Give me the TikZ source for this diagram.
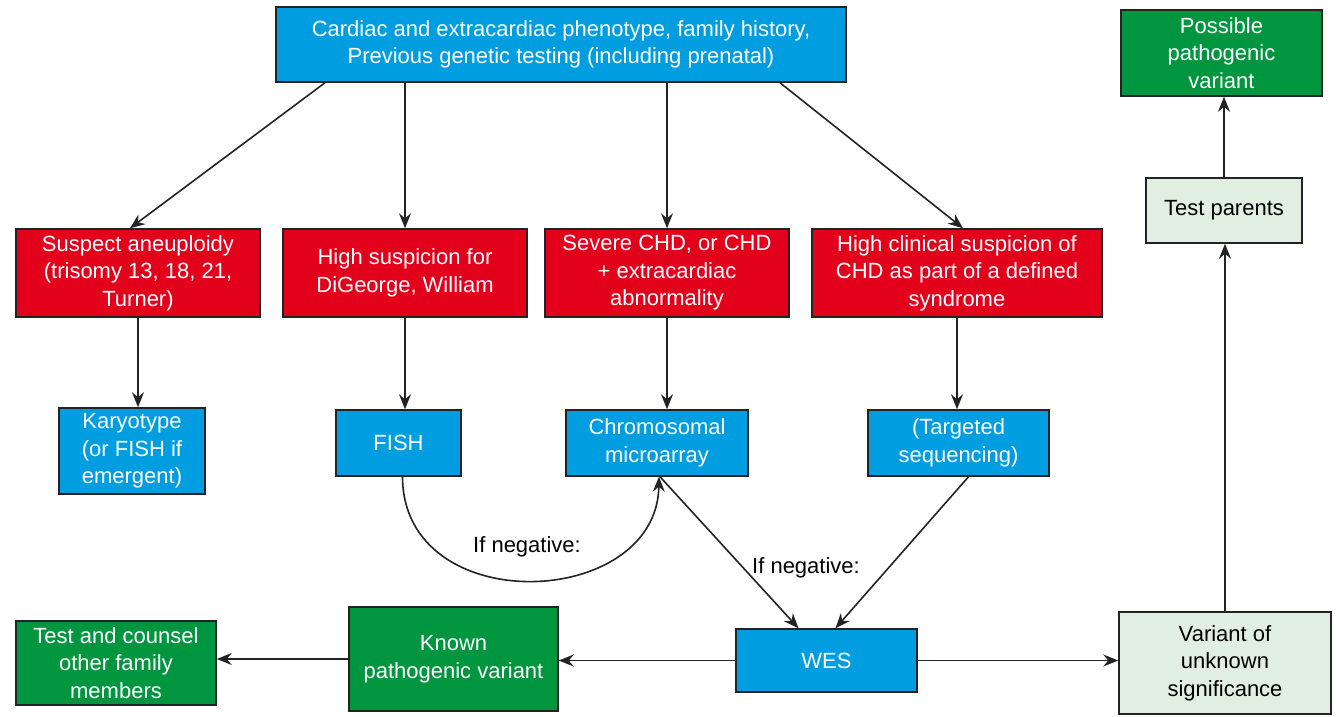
\documentclass[tikz,border=0pt]{standalone}
\usepackage{fontspec}
\setmainfont{Liberation Sans}
\usepackage{xcolor}
\usetikzlibrary{arrows.meta, positioning}

\definecolor{testblue}{RGB}{0,157,224}
\definecolor{suspred}{RGB}{226,0,26}
\definecolor{resgreen}{RGB}{0,150,64}
\definecolor{palegreen}{RGB}{225,238,226}
\definecolor{edgegray}{RGB}{35,35,35}

\begin{document}
\begin{tikzpicture}[
  x=1pt, y=-1pt,
  blk/.style = {draw=edgegray, line width=1.5pt, align=center, inner sep=0pt,
                font=\fontsize{22}{27.5}\selectfont},
  bluebox/.style = {blk, fill=testblue, text=white},
  redbox/.style = {blk, fill=suspred, text=white},
  greenbox/.style = {blk, fill=resgreen, text=white},
  palebox/.style = {blk, fill=palegreen, text=black},
  lbl/.style = {font=\fontsize{22}{27.5}\selectfont},
  arr/.style = {-{Stealth[length=15pt, width=12pt, inset=5pt]}, line width=1.6pt, draw=edgegray}
]
\useasboundingbox (0,0) rectangle (1336,716);

% phenotype and history
\node[bluebox, minimum width=570pt, minimum height=75pt] (top) at (561,44.5)
  {Cardiac and extracardiac phenotype, family history,\\ Previous genetic testing (including prenatal)};

% suspicions
\node[redbox, minimum width=244pt, minimum height=88pt] (aneu) at (138,273)
  {Suspect aneuploidy\\ (trisomy 13, 18, 21,\\ Turner)};
\node[redbox, minimum width=244pt, minimum height=88pt] (digeorge) at (405,273)
  {High suspicion for\\ DiGeorge, William};
\node[redbox, minimum width=244pt, minimum height=88pt] (severe) at (667,273)
  {Severe CHD, or CHD\\ + extracardiac\\ abnormality};
\node[redbox, minimum width=290pt, minimum height=88pt] (syndrome) at (957,273)
  {High clinical suspicion of\\ CHD as part of a defined\\ syndrome};

% first tests
\node[bluebox, minimum width=146pt, minimum height=86pt] (karyo) at (132,451)
  {Karyotype\\ (or FISH if\\ emergent)};
\node[bluebox, minimum width=125pt, minimum height=66pt] (fish) at (398.5,443) {FISH};
\node[bluebox, minimum width=182pt, minimum height=66pt] (cma) at (657,443)
  {Chromosomal\\ microarray};
\node[bluebox, minimum width=181pt, minimum height=66pt] (targ) at (958.5,443)
  {(Targeted\\ sequencing)};

% exome and results
\node[bluebox, minimum width=181pt, minimum height=63pt] (wes) at (826.5,660.5) {WES};
\node[greenbox, minimum width=209pt, minimum height=104pt] (known) at (453.5,659)
  {Known\\ pathogenic variant};
\node[greenbox, minimum width=200pt, minimum height=84pt] (counsel) at (116,663)
  {Test and counsel\\ other family\\ members};
\node[palebox, minimum width=212pt, minimum height=102pt] (vus) at (1225,663)
  {Variant of\\ unknown\\ significance};
\node[palebox, minimum width=156pt, minimum height=65pt] (parents) at (1224,210.5)
  {Test parents};
\node[greenbox, minimum width=201pt, minimum height=86pt] (possible) at (1221.5,53)
  {Possible\\ pathogenic\\ variant};

\draw[arr] ([xshift=-236pt]top.south) -- ([xshift=-8pt]aneu.north);
\draw[arr] (digeorge |- top.south) -- (digeorge.north);
\draw[arr] (severe |- top.south) -- (severe.north);
\draw[arr] ([xshift=219pt]top.south) -- ([xshift=6pt]syndrome.north);

\draw[arr] (aneu.south) -- (aneu.south |- karyo.north);
\draw[arr] (digeorge.south) -- (digeorge.south |- fish.north);
\draw[arr] (severe.south) -- (severe.south |- cma.north);
\draw[arr] (syndrome.south) -- (syndrome.south |- targ.north);

\draw[arr] ([xshift=4pt]fish.south) .. controls (403,620) and (657,610) .. ([xshift=2pt]cma.south);
\node[lbl] (neg1) at (527,547) {If negative:};

\draw[arr] ([xshift=3pt]cma.south) -- ([xshift=-28pt]wes.north);
\draw[arr] ([xshift=10pt]targ.south) -- ([xshift=9pt]wes.north);
\node[lbl] (neg2) at (806,568) {If negative:};

\draw[arr] (wes.west) -- (wes.west -| known.east);
\draw[arr] (known.west) -- (known.west -| counsel.east);
\draw[arr] (wes.east) -- (wes.east -| vus.west);
\draw[arr] (vus.north) -- (vus.north |- parents.south);
\draw[arr] (parents.north) -- (parents.north |- possible.south);
\end{tikzpicture}
\end{document}
